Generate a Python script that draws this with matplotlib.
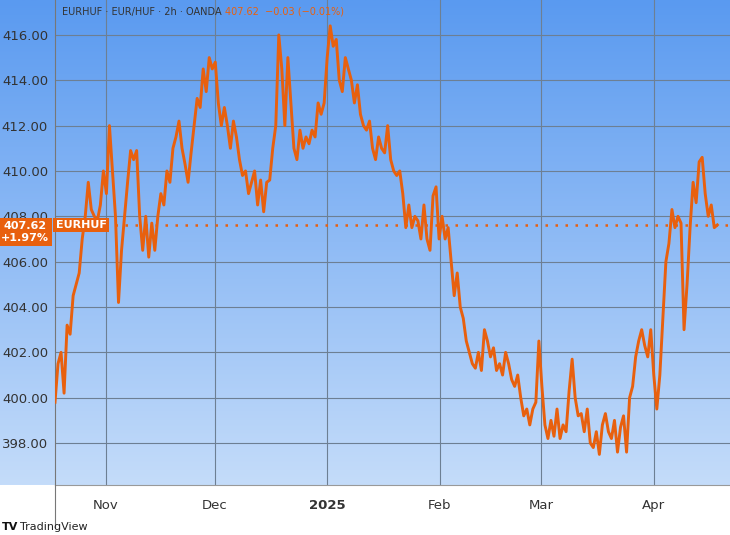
import numpy as np
import pandas as pd
import matplotlib
matplotlib.use("Agg")
import matplotlib.pyplot as plt
from matplotlib.colors import LinearSegmentedColormap

prices = [399.8,401.5,402.0,400.2,403.2,402.8,404.5,405,405.5,407,408,409.5,408.3,408,407.8,408.5,410,409,412,410,408,404.2,406.5,408,409.5,410.9,410.5,410.9,408,406.5,408,406.2,407.7,406.5,408,409,408.5,410,409.5,411,411.5,412.2,411,410.3,409.5,410.8,412,413.2,412.8,414.5,413.5,415,414.5,414.8,413,412,412.8,412,411,412.2,411.5,410.5,409.8,410,409,409.5,410,408.5,409.6,408.2,409.5,409.6,411,412,416,414.5,412,415,413,411,410.5,411.8,411,411.5,411.2,411.8,411.5,413,412.5,413,415,416.4,415.5,415.8,414,413.5,415,414.5,414,413,413.8,412.5,412,411.8,412.2,411,410.5,411.5,411,410.8,412,410.5,410,409.8,410,409,407.5,408.5,407.5,408,407.8,407,408.5,407,406.5,408.9,409.3,407,408,407,407.5,406,404.5,405.5,404,403.5,402.5,402,401.5,401.3,402,401.2,403,402.5,401.8,402.2,401.2,401.5,401,402,401.5,400.8,400.5,401,400,399.2,399.5,398.8,399.5,399.8,402.5,400.5,398.8,398.2,399,398.3,399.5,398.2,398.8,398.5,400.3,401.7,400,399.2,399.3,398.5,399.5,398,397.8,398.5,397.5,398.8,399.3,398.5,398.2,399,397.6,398.7,399.2,397.6,400,400.5,401.8,402.5,403,402.3,401.8,403,401,399.5,401,403.5,406,406.8,408.3,407.5,408,407.7,403,405,407.5,409.5,408.6,410.4,410.6,409,408,408.5,407.5,407.62]
y_ticks = [398, 400, 402, 404, 406, 408, 410, 412, 414, 416]
month_ticks = ["2024-11-01", "2024-12-01", "2025-01-01", "2025-02-01", "2025-03-01", "2025-04-01"]
month_labels = ["Nov", "Dec", "2025", "Feb", "Mar", "Apr"]
last_price = 407.62

times = pd.date_range("2024-10-18", periods=len(prices), freq="20h")
orange = "#e8600e"

W, H = 730, 535
fig = plt.figure(figsize=(W/100, H/100), dpi=100)
bg = fig.add_axes([0, 1-485/H, 1, 485/H])
grad = np.linspace(0, 1, 256).reshape(-1, 1)
cm = LinearSegmentedColormap.from_list("g", ["#5a9af0", "#c4dcfa"])
bg.imshow(grad, aspect="auto", cmap=cm, extent=[0, 1, 0, 1])
bg.axis("off")

ax = fig.add_axes([55/W, 1-485/H, 675/W, 485/H])
ax.patch.set_alpha(0)
ax.plot(times, prices, color=orange, lw=2.1, zorder=3)
ax.axhline(last_price, color=orange, lw=1.8, ls=(0, (1, 3)), zorder=2)
ax.set_ylim(396.15, 417.54)
ax.set_xlim(pd.Timestamp("2024-10-18"), pd.Timestamp("2025-04-22"))
ax.set_yticks(y_ticks)
ax.set_yticklabels([f"{v:.2f}" for v in y_ticks])
ax.set_xticks(pd.to_datetime(month_ticks))
ax.set_xticklabels(month_labels)
for lbl in ax.get_xticklabels():
    if lbl.get_text() == "2025":
        lbl.set_fontweight("bold")
ax.grid(True, color="#6d7f93", lw=0.8)
ax.tick_params(length=0, labelsize=9.5, colors="#333333")
ax.tick_params(axis="x", pad=10)
ax.tick_params(axis="y", pad=5)
for s in ["top", "right"]:
    ax.spines[s].set_visible(False)
ax.spines["bottom"].set_color("#999999")
ax.spines["left"].set_color("#777777")

fig.add_artist(plt.Line2D([55/W, 55/W], [1-527/H, 1-485/H], color="#777777", lw=0.8))

fig.text(62/W, 1-12/H, "EURHUF · EUR/HUF · 2h · OANDA", fontsize=7, color="#333333", va="center")
fig.text(225/W, 1-12/H, "407.62  −0.03 (−0.01%)", fontsize=7, color=orange, va="center")

fig.text(25/W, 1-232/H, "407.62\n+1.97%", fontsize=8, color="white", ha="center", va="center",
         fontweight="bold", linespacing=1.2, zorder=5,
         bbox=dict(boxstyle="square,pad=0.25", fc=orange, ec="none"))
fig.text(81/W, 1-225/H, "EURHUF", fontsize=8, color="white", ha="center", va="center",
         fontweight="bold", zorder=5, bbox=dict(boxstyle="square,pad=0.2", fc=orange, ec="none"))

fig.text(2/W, 1-527/H, "TV", fontsize=8, color="#111111", va="center", fontweight="bold")
fig.text(20/W, 1-527/H, "TradingView", fontsize=8, color="#222222", va="center")

fig.savefig("out.png", dpi=100)
